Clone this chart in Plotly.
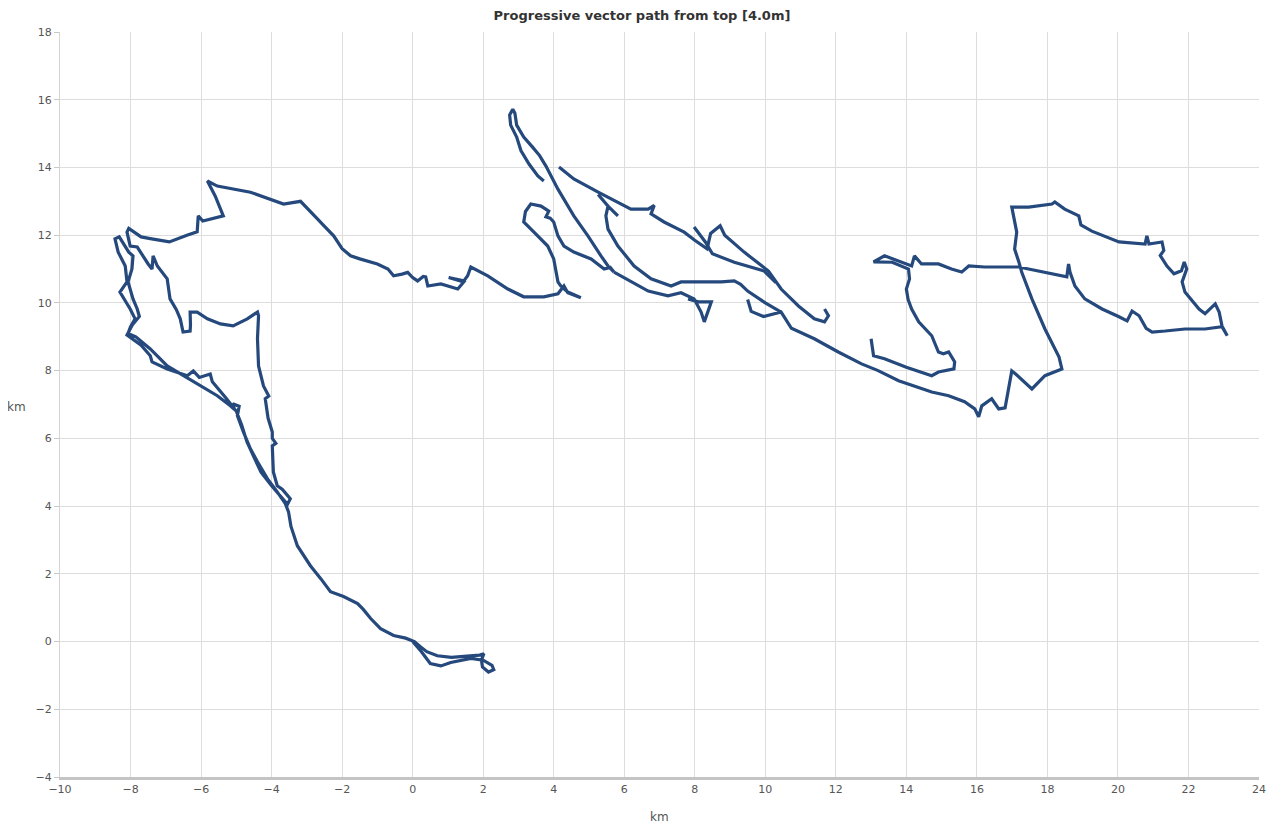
import plotly.graph_objects as go

# Progressive vector path (km east, km north).
# Separate strands of the drawn track; gaps are inserted between them.
strand_a = [
    (0.0, 0.0), (0.25, -0.3), (0.5, -0.65), (0.8, -0.72), (1.08, -0.62), (1.4, -0.56), (1.65, -0.5),
    (2.0, -0.55), (2.25, -0.7), (2.3, -0.83), (2.15, -0.9), (1.98, -0.75), (1.95, -0.55), (2.02, -0.36),
    (1.9, -0.4), (1.45, -0.44), (1.1, -0.47), (0.7, -0.42), (0.4, -0.3), (0.22, -0.15), (0.05, 0.0),
    (-0.2, 0.1), (-0.54, 0.18), (-0.91, 0.38), (-1.19, 0.68), (-1.4, 0.95), (-1.56, 1.12), (-1.96, 1.33),
    (-2.33, 1.47), (-2.6, 1.85), (-2.9, 2.24), (-3.27, 2.83), (-3.45, 3.4), (-3.52, 3.83), (-3.61, 4.07),
    (-3.84, 4.42), (-4.12, 4.81), (-4.4, 5.31), (-4.6, 5.69), (-4.8, 6.19), (-4.97, 6.67), (-4.92, 6.95),
    (-5.1, 7.02), (-5.05, 6.85), (-5.17, 6.96), (-5.54, 7.26), (-6.02, 7.55), (-6.51, 7.85), (-6.96, 8.14),
    (-7.44, 8.64), (-7.85, 9.0), (-8.07, 9.1), (-8.0, 9.3), (-7.87, 9.53), (-8.01, 9.82), (-8.3, 10.32),
    (-8.1, 10.62), (-8.15, 11.09), (-8.35, 11.5), (-8.44, 11.89), (-8.32, 11.95), (-8.05, 11.5),
    (-7.93, 11.39), (-7.96, 11.0), (-8.07, 10.62), (-7.93, 10.12), (-7.81, 9.82), (-7.75, 9.6),
    (-7.95, 9.35), (-8.1, 9.05), (-7.7, 8.75), (-7.44, 8.44), (-7.39, 8.26), (-6.96, 8.05), (-6.39, 7.85),
    (-6.22, 7.99), (-6.05, 7.8), (-5.74, 7.9), (-5.68, 7.67), (-5.3, 7.2), (-5.0, 6.8), (-4.85, 6.4),
    (-4.7, 5.9), (-4.5, 5.45), (-4.3, 5.0), (-4.0, 4.6), (-3.7, 4.25), (-3.55, 4.05),
    (-3.47, 4.22), (-3.7, 4.5), (-3.84, 4.6), (-3.95, 5.01), (-3.98, 5.78), (-3.88, 5.85), (-3.98, 6.0),
    (-3.98, 6.19), (-4.1, 6.6), (-4.18, 7.17), (-4.08, 7.25), (-4.23, 7.55), (-4.37, 8.14), (-4.4, 8.94),
    (-4.37, 9.62), (-4.4, 9.73), (-4.69, 9.53), (-5.09, 9.32), (-5.45, 9.38), (-5.82, 9.53), (-6.11, 9.73),
    (-6.31, 9.73), (-6.3, 9.35), (-6.31, 9.17), (-6.51, 9.14), (-6.59, 9.53), (-6.7, 9.8), (-6.88, 10.12),
    (-6.96, 10.71), (-7.24, 11.09), (-7.36, 11.39), (-7.39, 11.0), (-7.5, 11.15), (-7.81, 11.65),
    (-8.01, 11.68), (-8.1, 12.09), (-8.05, 12.2), (-7.93, 12.12), (-7.7, 11.95), (-7.44, 11.9),
    (-6.9, 11.8), (-6.4, 12.0), (-6.11, 12.1), (-6.08, 12.57), (-5.95, 12.42), (-5.37, 12.57),
    (-5.6, 13.16), (-5.82, 13.6), (-5.54, 13.45), (-4.6, 13.27), (-3.66, 12.92), (-3.18, 13.0),
    (-3.05, 12.85), (-2.7, 12.48), (-2.56, 12.33), (-2.24, 11.98), (-2.0, 11.6), (-1.76, 11.39),
    (-1.5, 11.3), (-1.0, 11.15), (-0.7, 11.0), (-0.54, 10.8), (-0.3, 10.85), (-0.14, 10.9), (0.0, 10.75),
    (0.14, 10.65), (0.3, 10.78), (0.37, 10.77), (0.43, 10.5), (0.8, 10.56), (1.28, 10.41), (1.45, 10.62),
    (1.02, 10.75), (1.45, 10.65), (1.56, 10.8), (1.65, 11.06), (2.13, 10.8), (2.7, 10.41), (3.15, 10.18),
    (3.72, 10.18), (4.12, 10.27), (4.29, 10.5), (4.4, 10.3), (4.77, 10.15), (4.4, 10.32), (4.2, 10.5),
    (4.12, 10.62), (4.0, 11.3), (3.83, 11.68), (3.44, 12.09), (3.15, 12.39), (3.2, 12.7), (3.35, 12.92),
    (3.64, 12.86), (3.86, 12.71), (3.78, 12.54), (3.9, 12.5), (4.0, 12.39), (4.12, 11.98), (4.29, 11.68),
    (4.57, 11.5), (5.06, 11.3), (5.43, 11.0), (5.6, 11.05), (5.71, 10.91), (5.54, 11.09), (5.34, 11.39),
    (4.97, 11.98), (4.57, 12.57), (4.12, 13.36), (3.78, 14.04), (3.6, 14.35), (3.4, 14.6), (3.15, 14.9),
    (2.95, 15.25), (2.9, 15.6), (2.84, 15.72), (2.75, 15.55), (2.78, 15.25), (2.95, 14.9), (3.07, 14.5),
    (3.3, 14.1), (3.55, 13.75), (3.72, 13.6),
]

strand_b = [
    (5.71, 10.91), (6.19, 10.62), (6.68, 10.35), (7.24, 10.21), (7.61, 10.3), (7.98, 10.12), (8.18, 9.73),
    (8.27, 9.44), (8.38, 9.75), (8.47, 10.03), (8.1, 10.03), (7.81, 10.12),
]

strand_c = [
    (4.15, 14.01), (4.57, 13.66), (5.26, 13.27), (5.82, 12.98), (6.19, 12.77), (6.68, 12.77), (6.85, 12.88),
    (6.76, 12.63), (7.13, 12.39), (7.7, 12.09), (8.0, 11.85), (8.35, 11.6), (8.45, 12.05), (8.72, 12.28),
    (8.85, 12.0), (9.4, 11.5), (10.09, 10.94), (10.45, 10.41), (10.94, 9.91), (11.39, 9.53), (11.68, 9.44),
    (11.79, 9.62), (11.68, 9.82),
]

strand_d = [
    (7.98, 12.24), (8.3, 11.8), (8.5, 11.45), (9.12, 11.2), (9.97, 10.94), (10.3, 10.6),
]

strand_e = [
    (5.26, 13.2), (5.54, 12.86), (5.82, 12.57), (5.54, 12.86), (5.48, 12.57), (5.54, 12.18), (5.82, 11.68),
    (6.28, 11.09), (6.76, 10.71), (7.33, 10.5), (7.61, 10.62), (8.2, 10.62), (8.75, 10.62), (9.12, 10.65),
    (9.3, 10.55), (9.5, 10.35), (10.0, 10.0), (10.45, 9.73), (9.95, 9.6), (9.6, 9.75), (9.5, 10.1),
    (9.6, 9.75), (9.95, 9.6), (10.45, 9.73), (10.74, 9.25), (11.39, 8.94), (12.07, 8.55), (12.73, 8.2),
    (13.2, 8.0), (13.78, 7.7), (14.72, 7.37), (15.2, 7.26), (15.65, 7.08), (15.94, 6.87), (16.05, 6.64),
    (16.14, 6.96), (16.42, 7.17), (16.62, 6.87), (16.8, 6.9), (16.9, 7.46), (16.99, 7.99), (17.1, 7.9),
    (17.56, 7.46), (17.93, 7.85), (18.21, 7.96), (18.41, 8.05), (18.33, 8.4), (17.93, 9.23), (17.56, 10.12),
    (17.27, 10.91), (17.19, 11.21), (17.07, 11.59), (17.13, 12.09), (17.05, 12.57), (16.99, 12.83),
    (17.47, 12.83), (18.13, 12.92), (18.21, 12.98), (18.49, 12.77), (18.89, 12.57), (18.95, 12.3),
    (19.26, 12.12), (20.03, 11.8), (20.77, 11.74), (20.82, 11.98), (20.88, 11.74), (21.25, 11.8),
    (21.3, 11.55), (21.2, 11.4), (21.39, 11.09), (21.59, 10.86), (21.8, 10.95), (21.88, 11.21),
    (21.95, 11.0), (21.82, 10.62), (21.9, 10.32), (22.3, 9.82), (22.47, 9.68), (22.76, 9.97), (22.87, 9.73),
    (22.95, 9.32), (23.1, 9.03), (22.95, 9.3), (22.47, 9.23), (21.9, 9.23), (21.34, 9.17), (20.97, 9.14),
    (20.8, 9.25), (20.6, 9.62), (20.4, 9.76), (20.26, 9.47), (20.03, 9.59), (19.55, 9.82), (19.06, 10.12),
    (18.78, 10.5), (18.64, 10.91), (18.6, 11.15), (18.55, 10.77), (18.13, 10.86), (17.19, 11.06),
    (16.22, 11.06), (15.77, 11.09), (15.57, 10.91), (15.28, 11.0), (14.91, 11.15), (14.43, 11.15),
    (14.23, 11.39), (14.15, 11.09), (13.38, 11.39), (13.07, 11.21), (13.6, 11.2), (14.06, 11.0),
    (14.09, 10.71), (14.0, 10.41), (14.05, 10.1), (14.15, 9.82), (14.35, 9.44), (14.72, 9.03),
    (14.91, 8.55), (15.05, 8.5), (15.2, 8.55), (15.37, 8.26), (15.35, 8.05), (14.91, 7.96), (14.72, 7.85),
    (14.0, 8.1), (13.38, 8.35), (13.07, 8.44), (13.0, 8.94),
]

strands = [strand_a, strand_b, strand_c, strand_d, strand_e]

x_ticks = list(range(-10, 25, 2))
y_ticks = list(range(-4, 19, 2))

xs, ys = [], []
for s in strands:
    xs += [p[0] for p in s] + [None]
    ys += [p[1] for p in s] + [None]

# the page body adds an 8px offset; size the figure so the whole page is 1276x828
FIG_W, FIG_H = 1268, 820
PLOT_W, PLOT_H = 1199, 745

fig = go.Figure()
fig.add_trace(go.Scatter(
    x=xs, y=ys, mode="lines", connectgaps=False,
    line=dict(color="#25497c", width=3.2),
    hoverinfo="skip", showlegend=False,
))

font_family = "DejaVu Sans, Verdana, sans-serif"
fig.update_layout(
    width=FIG_W, height=FIG_H,
    margin=dict(l=52, r=17, t=24, b=51, autoexpand=False),
    paper_bgcolor="white", plot_bgcolor="white",
    title=dict(text="<b>Progressive vector path from top [4.0m]</b>",
               x=0.5, xanchor="center", y=1 - 7 / FIG_H, yanchor="middle",
               font=dict(family=font_family, size=13, color="#333333")),
    font=dict(family=font_family, size=11, color="#555555"),
)
fig.update_xaxes(
    range=[-10, 24], tickvals=x_ticks, showgrid=True, gridcolor="#dddddd", gridwidth=1,
    zeroline=False, showline=True, linecolor="#c4c4c4", linewidth=3,
    ticks="", tickfont=dict(size=11, color="#555555"), fixedrange=True,
)
fig.update_yaxes(
    range=[-4, 18], tickvals=y_ticks, showgrid=True, gridcolor="#dddddd", gridwidth=1,
    zeroline=False, showline=True, linecolor="#d4d4d4", linewidth=1,
    ticks="outside", ticklen=5, tickcolor="#c8c8c8",
    tickfont=dict(size=11, color="#555555"), fixedrange=True,
)
fig.add_annotation(text="km", xref="paper", yref="paper", x=0.5, y=-40 / PLOT_H,
                   xanchor="center", yanchor="middle", showarrow=False,
                   font=dict(family=font_family, size=12, color="#555555"))
fig.add_annotation(text="km", xref="paper", yref="paper", x=-44 / PLOT_W, y=370 / PLOT_H,
                   xanchor="center", yanchor="middle", showarrow=False,
                   font=dict(family=font_family, size=12, color="#555555"))

fig.write_html("out.html")
